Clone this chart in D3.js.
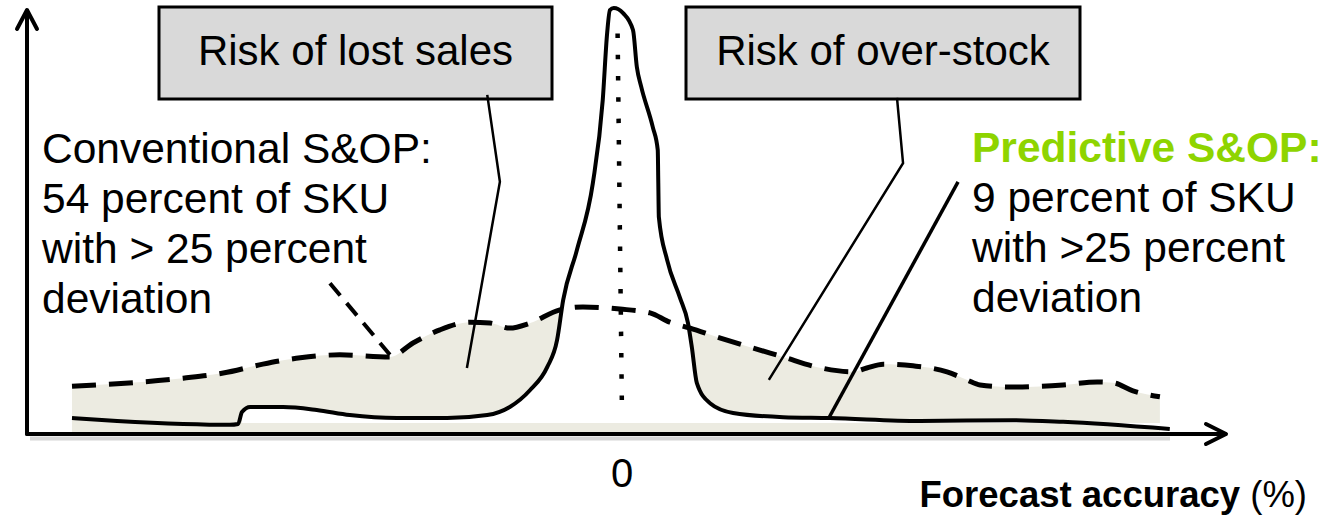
<!DOCTYPE html>
<meta charset="utf-8">
<title>Forecast accuracy</title>
<script src="https://cdn.jsdelivr.net/npm/d3@7"></script>
<style>
  body { margin: 0; background: #fff; }
  text { font-family: "Liberation Sans", Arial, sans-serif; }
</style>
<div id="chart"></div>
<script>

// forecast deviation (%) and relative frequency
var convX = [-100, -79.8, -72.5, -65.3, -58.5, -51.3, -42.2, -38, -33.1, -27.6, -24, -20.4, -16.7, -11.3, -7.1, -0.4, 5.1, 8.7, 12.4, 17.3, 23.3, 29.3, 35.5, 42, 44.5, 47.5, 52.9, 59.1, 62.7, 65.1, 71.1, 80.2, 86.4, 89.3, 92.9, 97.8];
var convY = [10.8, 12.7, 13.9, 16, 17.5, 18.2, 17.7, 21, 24.1, 25.9, 25.7, 24.5, 25.7, 28.8, 29.5, 29, 28.1, 25.9, 24.5, 22.4, 20, 17.7, 15.3, 14.2, 15.1, 16, 15.6, 14.2, 12.3, 11.1, 10.6, 11.1, 11.8, 11.6, 9.7, 8.3];

var predX = [-100, -91.8, -79.8, -71.3, -69.8, -69.1, -67.6, -61.6, -55.5, -49.5, -40.9, -31.8, -24.5, -20.4, -16.7, -13.6, -11.8, -10.7, -8.2, -5.3, -3.5, -2.7, -2.2, -1.5, 0.2, 2, 2.7, 3.5, 5.6, 6.5, 6.6, 6.7, 8.2, 10.5, 12, 12.7, 13.6, 16, 20.2, 29.3, 37.8, 54.2, 71.1, 80.2, 99.6];
var predY = [3.3, 2.6, 1.9, 1.7, 1.9, 4.7, 5.9, 5.9, 5.2, 4, 3.3, 3.3, 4, 5.9, 9.9, 15.3, 21.7, 31.1, 42.9, 58.7, 78.3, 94.1, 99.5, 100, 98.8, 94.8, 86.1, 81.4, 71.9, 66.5, 58.7, 50.7, 40.6, 31.8, 25.7, 20, 11.6, 6.8, 4.5, 3.5, 3.3, 2.6, 2.8, 2.4, 0.7];

var boxLabels = ["Risk of lost sales", "Risk of over-stock"];
var convLines = ["Conventional S&OP:", "54 percent of SKU", "with > 25 percent", "deviation"];
var predLines = ["Predictive S&OP:", "9 percent of SKU", "with >25 percent", "deviation"];
var xTickLabels = ["0"];

var width = 1325, height = 518;

var svg = d3.select("#chart").append("svg")
    .attr("width", width)
    .attr("height", height);

var x = d3.scaleLinear().domain([-100, 100]).range([72, 1172]);
var y = d3.scaleLinear().domain([0, 100]).range([432, 8]);

var conv = convX.map(function(d, i) { return [d, convY[i]]; });
var pred = predX.map(function(d, i) { return [d, predY[i]]; });

// beige area under conventional curve
svg.append("path")
    .datum(conv)
    .attr("fill", "#ecebe1")
    .attr("d", d3.area()
        .x(function(d) { return x(d[0]); })
        .y0(y(0))
        .y1(function(d) { return y(d[1]); })
        .curve(d3.curveMonotoneX));

// predictive distribution is white inside
svg.append("path")
    .datum(pred.filter(function(d) { return d[0] > -69.5; }))
    .attr("fill", "#fff")
    .attr("d", d3.area()
        .x(function(d) { return x(d[0]); })
        .y0(y(2.1))
        .y1(function(d) { return y(d[1]); })
        .curve(d3.curveMonotoneX));

// axes, with a soft grey shadow under the x axis
svg.append("line")
    .attr("x1", 30).attr("x2", 1170)
    .attr("y1", 438.5).attr("y2", 438.5)
    .attr("stroke", "#bbb")
    .attr("stroke-width", 4)
    .attr("opacity", 0.6);

var axes = svg.append("g")
    .attr("fill", "none")
    .attr("stroke", "#000")
    .attr("stroke-width", 4)
    .attr("stroke-linecap", "round")
    .attr("stroke-linejoin", "round");
axes.append("path").attr("d", "M27,434H1225");
axes.append("path").attr("d", "M27,434V11");
axes.append("path").attr("d", "M17,29L27,10L37,29");
axes.append("path").attr("d", "M1206,424L1226,434L1206,444");

// dotted zero line
svg.append("line")
    .attr("x1", x(-0.8)).attr("y1", y(94))
    .attr("x2", x(0)).attr("y2", y(4))
    .attr("stroke", "#000")
    .attr("stroke-width", 4.5)
    .attr("stroke-dasharray", "4.5,16.8");

// conventional (dashed) curve
svg.append("path")
    .datum(conv)
    .attr("fill", "none")
    .attr("stroke", "#000")
    .attr("stroke-width", 5)
    .attr("stroke-dasharray", "24,13")
    .attr("d", d3.line()
        .x(function(d) { return x(d[0]); })
        .y(function(d) { return y(d[1]); })
        .curve(d3.curveMonotoneX));

// predictive (solid) curve
svg.append("path")
    .datum(pred)
    .attr("fill", "none")
    .attr("stroke", "#000")
    .attr("stroke-width", 4)
    .attr("stroke-linejoin", "round")
    .attr("d", d3.line()
        .x(function(d) { return x(d[0]); })
        .y(function(d) { return y(d[1]); })
        .curve(d3.curveMonotoneX));

// callout boxes
var boxes = [{x: 159, w: 393}, {x: 686, w: 394}];
boxes.forEach(function(b, i) {
  svg.append("rect")
      .attr("x", b.x).attr("y", 7)
      .attr("width", b.w).attr("height", 92)
      .attr("fill", "#d9d9d9")
      .attr("stroke", "#000")
      .attr("stroke-width", 3);
  svg.append("text")
      .attr("x", b.x + b.w / 2).attr("y", 65)
      .attr("text-anchor", "middle")
      .attr("font-size", 42)
      .text(boxLabels[i]);
});

// leader lines (points in data units)
var leader = d3.line()
    .x(function(d) { return x(d[0]); })
    .y(function(d) { return y(d[1]); });

svg.append("path")
    .datum([[-24.5, 79.5], [-22.2, 59], [-28.2, 15.1]])
    .attr("fill", "none").attr("stroke", "#000").attr("stroke-width", 2.5)
    .attr("d", leader);
svg.append("path")
    .datum([[50, 78.8], [51.1, 63.4], [26.7, 12.3]])
    .attr("fill", "none").attr("stroke", "#000").attr("stroke-width", 2.5)
    .attr("d", leader);
svg.append("path")
    .datum([[61.1, 59], [37.6, 3.3]])
    .attr("fill", "none").attr("stroke", "#000").attr("stroke-width", 3.5)
    .attr("d", leader);
svg.append("path")
    .datum([[-53.1, 35.1], [-42.2, 18.2]])
    .attr("fill", "none").attr("stroke", "#000").attr("stroke-width", 4)
    .attr("stroke-dasharray", "16,10")
    .attr("d", leader);

// text blocks
svg.append("g").selectAll("text")
    .data(convLines)
    .enter()
    .append("text")
    .attr("x", 42)
    .attr("y", function(d, i) { return 163 + i * 50; })
    .attr("font-size", 42.5)
    .text(function(d) { return d; });

svg.append("g").selectAll("text")
    .data(predLines)
    .enter()
    .append("text")
    .attr("x", 972)
    .attr("y", function(d, i) { return 162 + i * 50; })
    .attr("font-size", 42.5)
    .attr("font-weight", function(d, i) { return i == 0 ? "bold" : "normal"; })
    .attr("fill", function(d, i) { return i == 0 ? "#8ed400" : "#000"; })
    .text(function(d) { return d; });

// tick label and axis title
svg.selectAll(".tick")
    .data(xTickLabels)
    .enter()
    .append("text")
    .attr("class", "tick")
    .attr("x", function(d) { return x(+d); })
    .attr("y", 487)
    .attr("text-anchor", "middle")
    .attr("font-size", 40)
    .text(function(d) { return d; });

var title = svg.append("text")
    .attr("x", 1307).attr("y", 507)
    .attr("text-anchor", "end")
    .attr("font-size", 36.5);
title.append("tspan").attr("font-weight", "bold").text("Forecast accuracy");
title.append("tspan").text(" (%)");

</script>
